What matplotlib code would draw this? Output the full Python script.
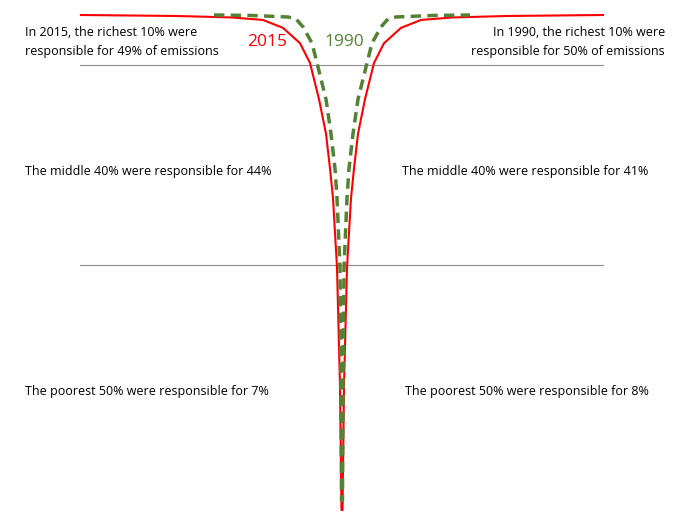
import matplotlib
matplotlib.use("Agg")
import matplotlib.pyplot as plt
import numpy as np

# percentile (population rank) vs half-width of emissions glass (relative units)
pct_2015 = [0, 25, 49, 63, 69, 76, 83, 90.3, 94.3, 97.4, 99, 99.5, 99.8, 100]
w_2015 = [0.5, 2, 5, 9, 12, 16, 23, 32, 42, 59, 79, 110, 165, 261]
pct_1990 = [2, 25, 49, 63, 69, 76, 83, 90.3, 94.3, 97.6, 99.2, 99.6, 99.9, 100]
w_1990 = [0.5, 1, 2, 5, 7, 11, 16, 25, 30, 39, 46, 54, 90, 128]

fig = plt.figure(figsize=(6.83, 5.22), dpi=100)
ax = fig.add_axes([0, 0, 1, 1])
ax.set_xlim(-342, 341)
ax.set_ylim(-2.42, 103.03)
ax.axis('off')

p = np.array(pct_2015); w = np.array(w_2015)
ax.plot(np.concatenate([-w[::-1], w]), np.concatenate([p[::-1], p]), color='red', lw=1.5)
p = np.array(pct_1990); w = np.array(w_1990)
ax.plot(np.concatenate([-w[::-1], w]), np.concatenate([p[::-1], p]), color='#548235', lw=2.5, ls=(0, (3, 1.8)))

for lvl in [90, 49.5]:
    ax.plot([-262, 261], [lvl, lvl], color='#8c8c8c', lw=0.8, zorder=0)

fam = ['Open Sans', 'DejaVu Sans']
fs = 9
def t(x, y, s, **kw):
    kw.setdefault('fontsize', fs)
    fig.text(x/683, 1 - y/522, s, family=fam, va='center', **kw)

t(25, 33, "In 2015, the richest 10% were")
t(25, 51, "responsible for 49% of emissions")
t(665, 33, "In 1990, the richest 10% were", ha='right')
t(665, 51, "responsible for 50% of emissions", ha='right')
t(25, 172, "The middle 40% were responsible for 44%")
t(402, 172, "The middle 40% were responsible for 41%")
t(25, 392, "The poorest 50% were responsible for 7%")
t(405, 392, "The poorest 50% were responsible for 8%")
t(247, 42, "2015", color='red', fontsize=12.5)
t(324, 42, "1990", color='#548235', fontsize=12.5)

fig.savefig("out.png", dpi=100)
